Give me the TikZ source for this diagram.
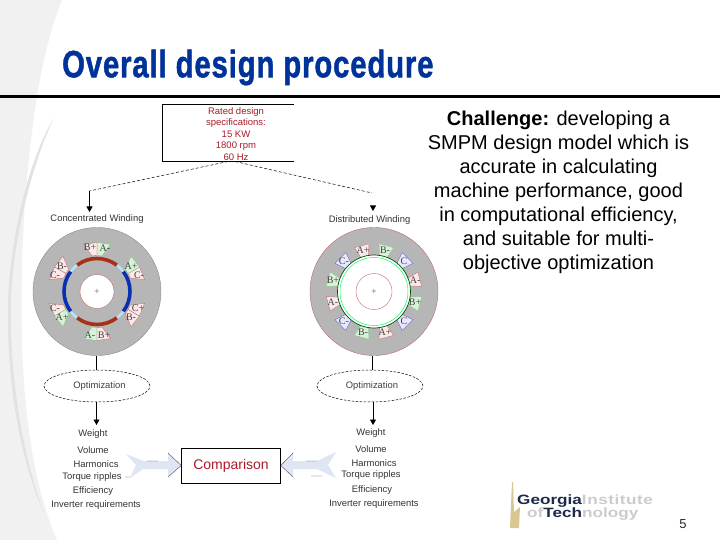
\documentclass[tikz,border=0pt]{standalone}
\usepackage{fontspec}
\setmainfont{Liberation Sans}
\newfontfamily\slotfont{Liberation Serif}
\usetikzlibrary{arrows.meta,shapes.geometric}
\definecolor{titleblue}{HTML}{003399}
\definecolor{darkred}{HTML}{A81C28}
\definecolor{swoosh}{HTML}{F1F1F1}
\definecolor{swooshdark}{HTML}{E2E2E2}
\definecolor{motorgray}{HTML}{B6B6B6}
\definecolor{slotred}{HTML}{FBE8E8}
\definecolor{slotgreen}{HTML}{D8F2D8}
\definecolor{slotblue}{HTML}{E8E8FC}
\definecolor{edgered}{HTML}{C06A6A}
\definecolor{edgegreen}{HTML}{80C880}
\definecolor{edgeblue}{HTML}{6060C0}
\definecolor{magred}{HTML}{A83018}
\definecolor{magblue}{HTML}{0830B0}
\definecolor{arrowfill}{HTML}{DDE6F2}
\definecolor{logonavy}{HTML}{1C2A4A}
\definecolor{logopale}{HTML}{CCCCCC}
\definecolor{logogold}{HTML}{D8C890}
\tikzset{
  x=1pt,y=-1pt,
  diagtext/.style={font=\fontsize{9.4}{10}\selectfont,text=black!80,inner sep=0pt},
  redtext/.style={font=\fontsize{9.5}{11.4}\selectfont,text=darkred,inner sep=0pt,align=center},
  slotlabel/.style={font=\slotfont\fontsize{10}{10}\selectfont,text=black!75,inner sep=0pt},
  optim/.style={ellipse,draw=black,dash pattern=on 2.5pt off 1.5pt,line width=.5pt,minimum width=106pt,minimum height=32pt,inner sep=0pt,font=\fontsize{9.4}{10}\selectfont,text=black!75},
  link/.style={draw=black,line width=.8pt},
  linktip/.style={link,-{Triangle[length=5.5pt,width=6pt]}},
  dashlink/.style={draw=black,line width=.5pt,dash pattern=on 3pt off 2pt},
  blockarrow/.style={fill=arrowfill,draw=none},
  logotext/.style={inner sep=0pt,anchor=west,text=logonavy},
}
\newcommand{\pairslot}[6]{%
  \begin{scope}[shift={(#6)}]
    \fill[#2,draw=#3,line width=.35pt] (90-#1+16:49) -- (90-#1:49) -- (90-#1:36) -- (90-#1+8:36) -- cycle;
    \fill[#4,draw=#5,line width=.35pt] (90-#1-16:49) -- (90-#1:49) -- (90-#1:36) -- (90-#1-8:36) -- cycle;
  \end{scope}}
\newcommand{\oneslot}[4]{%
  \begin{scope}[shift={(374,291.5)}]
    \fill[#2,draw=#3,line width=.35pt] (-#1-6:36) -- (-#1-9:48) -- (-#1+9:48) -- (-#1+6:36) -- cycle;
    \node[slotlabel] at (-#1:42.5) {#4};
  \end{scope}}
\begin{document}
\begin{tikzpicture}
\useasboundingbox (0,0) rectangle (720,540);
\fill[white] (0,0) rectangle (720,540);
% background swoosh
\fill[swoosh] (0,0) -- (62,0) .. controls (50,30) and (42,65) .. (37,96) .. controls (26,170) and (20,240) .. (22,340) .. controls (24,420) and (35,490) .. (57,540) -- (0,540) -- cycle;
\fill[swooshdark] (54,118) .. controls (34,150) and (12,220) .. (8,300) .. controls (6,380) and (20,460) .. (44,513) .. controls (24,460) and (9,380) .. (11,300) .. controls (14,225) and (38,150) .. (54,118) -- cycle;
% title
\node[anchor=west,inner sep=0pt,text=titleblue] (title) at (62,67.5) {\scalebox{.77}[1]{\fontspec{Liberation Sans Bold}[FakeBold=1.4,LetterSpace=3]\fontsize{38}{40}\selectfont Overall design procedure}};
\coordinate (ruleL) at (0,96.5);
\coordinate (ruleR) at (720,96.5);
\draw[line width=2.6pt] (ruleL) -- (ruleR);
% spec box (open right side)
\coordinate (bTL) at (162.5,104.5);
\coordinate (bBL) at (162.5,161);
\coordinate (bTR) at (294,104.5);
\coordinate (bBR) at (294,161);
\draw[line width=.6pt] (bTR) -- (bTL) -- (bBL) -- (bBR);
\node[redtext] (spec) at (236,134) {Rated design\\specifications:\\15 KW\\1800 rpm\\60 Hz};
% left motor
\coordinate (lm) at (97,291.5);
\coordinate (rm) at (374,291.5);
\fill[motorgray,draw=black!45,line width=.4pt] (lm) circle (64);
\pairslot{0}{slotgreen}{edgegreen}{slotred}{edgered}{lm}
\pairslot{60}{slotred}{edgered}{slotred}{edgered}{lm}
\pairslot{120}{slotred}{edgered}{slotgreen}{edgegreen}{lm}
\pairslot{180}{slotgreen}{edgegreen}{slotred}{edgered}{lm}
\pairslot{240}{slotred}{edgered}{slotred}{edgered}{lm}
\pairslot{300}{slotred}{edgered}{slotgreen}{edgegreen}{lm}
\begin{scope}[shift={(lm)}]
  \draw[cyan!30,line width=2.4pt] (0,0) circle (33);
  \draw[magred,line width=3.6pt] (-53:33) arc[start angle=-53,end angle=-127,radius=33];
  \draw[magred,line width=3.6pt] (53:33) arc[start angle=53,end angle=127,radius=33];
  \draw[magblue,line width=3.6pt] (-37:33) arc[start angle=-37,end angle=37,radius=33];
  \draw[magblue,line width=3.6pt] (143:33) arc[start angle=143,end angle=217,radius=33];
  \fill[white,draw=edgered,line width=.4pt] (0,0) circle (17);
  \node[font=\fontsize{9}{9}\selectfont,text=black!50,inner sep=0pt] (lplus) at (0,0) {+};
\end{scope}
\node[slotlabel] (l1) at (90,247.5) {B+};
\node[slotlabel] (l2) at (105,248) {A-};
\node[slotlabel] (l3) at (131,266) {A+};
\node[slotlabel] (l4) at (139,275) {C-};
\node[slotlabel] (l5) at (138,308) {C+};
\node[slotlabel] (l6) at (131,317) {B-};
\node[slotlabel] (l7) at (90,335.5) {A-};
\node[slotlabel] (l8) at (104,335) {B+};
\node[slotlabel] (l9) at (55,308) {C-};
\node[slotlabel] (l10) at (62,317) {A+};
\node[slotlabel] (l11) at (62,266) {B-};
\node[slotlabel] (l12) at (55,275) {C-};
% right motor
\fill[motorgray,draw=edgered,line width=.4pt] (rm) circle (64);
\oneslot{105}{slotred}{edgered}{A+}
\oneslot{75}{slotgreen}{edgegreen}{B-}
\oneslot{45}{slotblue}{edgeblue}{C}
\oneslot{15}{slotred}{edgered}{A-}
\oneslot{-15}{slotgreen}{edgegreen}{B+}
\oneslot{-45}{slotblue}{edgeblue}{C}
\oneslot{-75}{slotred}{edgered}{A+}
\oneslot{-105}{slotgreen}{edgegreen}{B-}
\oneslot{-135}{slotblue}{edgeblue}{C-}
\oneslot{-165}{slotred}{edgered}{A-}
\oneslot{165}{slotgreen}{edgegreen}{B+}
\oneslot{135}{slotblue}{edgeblue}{C-}
\begin{scope}[shift={(rm)}]
  \fill[white,draw=black!70!green,line width=.7pt] (0,0) circle (36.5);
  \draw[green!60!cyan,line width=.5pt] (0,0) circle (34);
  \fill[white,draw=edgered,line width=.4pt] (0,0) circle (18);
  \node[font=\fontsize{9}{9}\selectfont,text=black!50,inner sep=0pt] (rplus) at (0,0) {+};
\end{scope}
% titles of motors
\node[diagtext] (lwind) at (97,219.5) {Concentrated Winding};
\node[diagtext] (rwind) at (369.5,220.5) {Distributed Winding};
% spec -> motor connectors
\coordinate (sl) at (228,161.5);
\coordinate (sr) at (235,161.5);
\coordinate (lc) at (89.5,191);
\coordinate (lt) at (89.5,212);
\coordinate (rc) at (372,193);
\coordinate (rs) at (373,206);
\coordinate (rt) at (373,211);
\draw[dashlink] (sl) -- (lc);
\draw[linktip] (lc) -- (lt);
\draw[dashlink] (sr) -- (rc);
\draw[linktip] (rs) -- (rt);
% optimization
\node[optim] (lopt) at (97,386) {\hspace*{5pt}Optimization};
\node[optim] (ropt) at (370,386) {\hspace*{4pt}Optimization};
\coordinate (lmb) at (96.5,355.5);
\coordinate (rmb) at (372.5,355.5);
\draw[link] (lmb) -- (lopt.north -| lmb);
\draw[link] (rmb) -- (ropt.north -| rmb);
\coordinate (lw) at (96.5,425);
\coordinate (rw) at (373,425);
\draw[linktip] (lopt.south -| lw) -- (lw);
\draw[linktip] (ropt.south -| rw) -- (rw);
% block arrows
\node[draw=black,line width=.6pt,minimum width=99pt,minimum height=35pt,inner sep=0pt,text=darkred,font=\fontsize{14}{15}\selectfont] (cmp) at (231,465.5) {Comparison};
\path[blockarrow] (126,454) -- (144,461) -- (168,461) -- (168,453) -- (cmp.west) -- (168,477) -- (168,469) -- (143,469) -- (130,478) -- (136,465) -- cycle;
\path[blockarrow] (336,452) -- (317,461) -- (293,461) -- (293,453) -- (cmp.east) -- (293,477) -- (293,469) -- (317,469) -- (336,478) -- (328,465) -- cycle;
\draw[black!70,line width=.4pt] (147,461) -- (158,461) (168,453) -- (cmp.west) -- (168,477) (125,477) -- (130,477);
\draw[black!70,line width=.4pt] (317,461) -- (306,461) (293,453) -- (cmp.east) -- (293,477) (311,476) -- (322,476);
% lists
\node[diagtext] (a1) at (93,434.5) {Weight};
\node[diagtext] (a2) at (93,450) {Volume};
\node[diagtext] (a3) at (96,464.5) {Harmonics};
\node[diagtext] (a4) at (92,477) {Torque ripples};
\node[diagtext] (a5) at (93,491) {Efficiency};
\node[diagtext] (a6) at (96,505) {Inverter requirements};
\node[diagtext] (b1) at (371,433) {Weight};
\node[diagtext] (b2) at (371,449) {Volume};
\node[diagtext] (b3) at (374,463) {Harmonics};
\node[diagtext] (b4) at (371,475.5) {Torque ripples};
\node[diagtext] (b5) at (372,490) {Efficiency};
\node[diagtext] (b6) at (374,504) {Inverter requirements};
% right text
\node[align=center,inner sep=0pt,font=\fontsize{20}{24}\selectfont,text=black] (chal) at (558.5,192.5) {\textbf{Challenge:} developing a\\SMPM design model which is\\accurate in calculating\\machine performance, good\\in computational efficiency,\\and suitable for multi-\\objective optimization};
% logo
\fill[logogold] (512,482) -- (513,482) -- (514,512) -- (520,507) -- (519,528) -- (510,528) -- cycle;
\node[logotext] (geo) at (517,501) {\scalebox{1.27}[1]{\bfseries\fontsize{13.5}{14}\selectfont Georgia\textcolor{logopale}{\addfontfeature{LetterSpace=3}Institute}}};
\node[logotext] (tech) at (527,514.5) {\scalebox{1.27}[1]{\bfseries\fontsize{13.5}{14}\selectfont\textcolor{logopale}{of}Tech\textcolor{logopale}{nology}}};
\node[inner sep=0pt,font=\fontsize{13}{14}\selectfont,text=black!85] (pg) at (683,524) {5};
\end{tikzpicture}
\end{document}
